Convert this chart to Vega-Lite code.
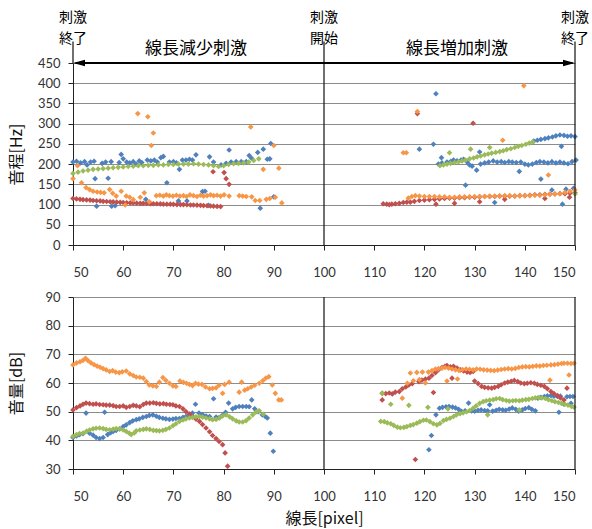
{
"$schema": "https://vega.github.io/schema/vega-lite/v6.json",
"padding": {"left": 8, "top": 11, "right": 0, "bottom": 4},
"spacing": 12,
"config": {
  "view": {"stroke": null},
  "font": "Noto Sans CJK JP",
  "axis": {"labelFont": "Lato", "labelFontSize": 13, "labelColor": "#333", "domainColor": "#222", "tickColor": "#222", "tickSize": 5, "titleFont": "Noto Sans CJK JP", "titleFontSize": 16, "titleFontWeight": "normal", "titleColor": "#111"},
  "axisX": {"labelPadding": 16, "grid": false},
  "axisY": {"labelPadding": 8, "grid": true, "gridColor": "#8c8c8c", "gridOpacity": 1, "titleX": -57, "titleBaseline": "middle"}
},
"datasets": {
  "pitch": [
{"s":"b","x":50,"y":205},{"s":"b","x":50.7,"y":207},{"s":"b","x":51.5,"y":203},{"s":"b","x":52.3,"y":206},{"s":"b","x":52.8,"y":198},{"s":"b","x":53.5,"y":205},{"s":"b","x":54.2,"y":207},{"s":"b","x":54.4,"y":164},{"s":"b","x":54.7,"y":96},{"s":"b","x":55.8,"y":202},{"s":"b","x":56.5,"y":205},{"s":"b","x":57,"y":165},{"s":"b","x":57.6,"y":206},{"s":"b","x":57.7,"y":96},{"s":"b","x":58.4,"y":97},{"s":"b","x":59.2,"y":204},{"s":"b","x":59.6,"y":224},{"s":"b","x":60,"y":213},{"s":"b","x":60.7,"y":205},{"s":"b","x":61.3,"y":203},{"s":"b","x":62,"y":206},{"s":"b","x":62.6,"y":200},{"s":"b","x":63.2,"y":208},{"s":"b","x":63.7,"y":204},{"s":"b","x":64.5,"y":113},{"s":"b","x":64.8,"y":210},{"s":"b","x":65.5,"y":208},{"s":"b","x":66.2,"y":210},{"s":"b","x":66.8,"y":205},{"s":"b","x":67.5,"y":216},{"s":"b","x":68,"y":219},{"s":"b","x":68.7,"y":154},{"s":"b","x":69.2,"y":205},{"s":"b","x":70,"y":206},{"s":"b","x":70.6,"y":203},{"s":"b","x":71,"y":109},{"s":"b","x":71.2,"y":187},{"s":"b","x":71.8,"y":210},{"s":"b","x":72.5,"y":210},{"s":"b","x":72.7,"y":109},{"s":"b","x":73.2,"y":212},{"s":"b","x":73.8,"y":210},{"s":"b","x":74.5,"y":223},{"s":"b","x":75.8,"y":132},{"s":"b","x":76.3,"y":133},{"s":"b","x":77,"y":98},{"s":"b","x":77.2,"y":218},{"s":"b","x":78,"y":205},{"s":"b","x":79.5,"y":198},{"s":"b","x":80.5,"y":202},{"s":"b","x":81.1,"y":235},{"s":"b","x":81.5,"y":205},{"s":"b","x":82.5,"y":206},{"s":"b","x":83.5,"y":206},{"s":"b","x":84.5,"y":206},{"s":"b","x":85.1,"y":221},{"s":"b","x":85.6,"y":214},{"s":"b","x":86.8,"y":229},{"s":"b","x":87.3,"y":91},{"s":"b","x":87.9,"y":237},{"s":"b","x":88.7,"y":212},{"s":"b","x":89.2,"y":213},{"s":"b","x":89.4,"y":251},{"s":"b","x":90,"y":119},
{"s":"b","x":119,"y":237},{"s":"b","x":121.8,"y":249},{"s":"b","x":122.3,"y":374},{"s":"b","x":123.4,"y":216},{"s":"b","x":128.2,"y":148},{"s":"b","x":131,"y":230},{"s":"b","x":134,"y":105},{"s":"b","x":138.9,"y":182},{"s":"b","x":143.2,"y":163},{"s":"b","x":145.4,"y":136},{"s":"b","x":147.3,"y":244},{"s":"b","x":147.5,"y":101},{"s":"b","x":148.2,"y":138},{"s":"b","x":149.7,"y":140},
{"s":"b","x":122.8,"y":200},{"s":"b","x":123.5,"y":203},{"s":"b","x":124.5,"y":205},{"s":"b","x":125.3,"y":207},{"s":"b","x":125.8,"y":210},{"s":"b","x":126.5,"y":208},{"s":"b","x":127.3,"y":210},{"s":"b","x":127.8,"y":212},{"s":"b","x":128.5,"y":205},{"s":"b","x":129,"y":198},{"s":"b","x":129.5,"y":195},{"s":"b","x":130.4,"y":185},{"s":"b","x":131.2,"y":200},{"s":"b","x":132,"y":203},{"s":"b","x":132.8,"y":205},{"s":"b","x":133.7,"y":208},{"s":"b","x":134.5,"y":205},{"s":"b","x":135.3,"y":206},{"s":"b","x":136,"y":204},{"s":"b","x":136.8,"y":206},{"s":"b","x":137.5,"y":205},{"s":"b","x":138.3,"y":204},{"s":"b","x":139.2,"y":205},{"s":"b","x":140,"y":200},{"s":"b","x":140.7,"y":198},{"s":"b","x":141.5,"y":200},{"s":"b","x":142.3,"y":204},{"s":"b","x":143,"y":206},{"s":"b","x":143.8,"y":205},{"s":"b","x":144.6,"y":203},{"s":"b","x":145.4,"y":206},{"s":"b","x":146.2,"y":203},{"s":"b","x":147,"y":205},{"s":"b","x":147.8,"y":203},{"s":"b","x":148.6,"y":201},{"s":"b","x":149.4,"y":206},{"s":"b","x":150.2,"y":210},
{"s":"b","x":141.8,"y":257},{"s":"b","x":142.5,"y":259},{"s":"b","x":143.2,"y":261},{"s":"b","x":144,"y":263},{"s":"b","x":144.7,"y":265},{"s":"b","x":145.5,"y":267},{"s":"b","x":146.2,"y":270},{"s":"b","x":147,"y":272},{"s":"b","x":147.8,"y":271},{"s":"b","x":148.5,"y":269},{"s":"b","x":149.2,"y":270},{"s":"b","x":150,"y":268},
{"s":"r","x":50,"y":115},{"s":"r","x":50.7,"y":114},{"s":"r","x":51.4,"y":113},{"s":"r","x":52,"y":112},{"s":"r","x":52.7,"y":111.5},{"s":"r","x":53.4,"y":111},{"s":"r","x":54,"y":110},{"s":"r","x":54.7,"y":109.5},{"s":"r","x":55.4,"y":109},{"s":"r","x":56,"y":108},{"s":"r","x":56.7,"y":107.5},{"s":"r","x":57.4,"y":107},{"s":"r","x":58,"y":106.5},{"s":"r","x":58.7,"y":106},{"s":"r","x":59.4,"y":105.5},{"s":"r","x":60,"y":105},{"s":"r","x":60.7,"y":104.5},{"s":"r","x":61.4,"y":104},{"s":"r","x":62,"y":104},{"s":"r","x":62.7,"y":103.5},{"s":"r","x":63.4,"y":103},{"s":"r","x":64,"y":103},{"s":"r","x":64.7,"y":102.5},{"s":"r","x":65.4,"y":102},{"s":"r","x":66,"y":102},{"s":"r","x":66.7,"y":102},{"s":"r","x":67.4,"y":101.5},{"s":"r","x":68,"y":101},{"s":"r","x":68.7,"y":101},{"s":"r","x":69.4,"y":101},{"s":"r","x":70,"y":100.5},{"s":"r","x":70.7,"y":100},{"s":"r","x":71.4,"y":100},{"s":"r","x":72,"y":100},{"s":"r","x":72.7,"y":99.5},{"s":"r","x":73.4,"y":99},{"s":"r","x":74,"y":99},{"s":"r","x":74.7,"y":98.5},{"s":"r","x":75.4,"y":98},{"s":"r","x":76,"y":97.5},{"s":"r","x":76.7,"y":97},{"s":"r","x":77.4,"y":96.5},{"s":"r","x":78,"y":96},{"s":"r","x":78.7,"y":95.5},{"s":"r","x":79.4,"y":95},{"s":"r","x":77.9,"y":181},{"s":"r","x":80.1,"y":179},{"s":"r","x":80.5,"y":164},{"s":"r","x":81.1,"y":150},
{"s":"r","x":111.8,"y":102},{"s":"r","x":112.5,"y":101},{"s":"r","x":113,"y":100},{"s":"r","x":113.5,"y":101},{"s":"r","x":114.2,"y":102},{"s":"r","x":115,"y":103},{"s":"r","x":115.8,"y":105},{"s":"r","x":116.5,"y":106},{"s":"r","x":117.2,"y":106},{"s":"r","x":118,"y":108},{"s":"r","x":119,"y":110},{"s":"r","x":120,"y":111},{"s":"r","x":121,"y":112},{"s":"r","x":122,"y":113},{"s":"r","x":123,"y":114},{"s":"r","x":124,"y":115},{"s":"r","x":125,"y":116},{"s":"r","x":126,"y":116},{"s":"r","x":127,"y":117},{"s":"r","x":128,"y":117},{"s":"r","x":129,"y":118},{"s":"r","x":130,"y":118},{"s":"r","x":131,"y":119},{"s":"r","x":132,"y":120},{"s":"r","x":133,"y":120},{"s":"r","x":134,"y":120},{"s":"r","x":135,"y":121},{"s":"r","x":136,"y":121},{"s":"r","x":137,"y":121},{"s":"r","x":138,"y":121},{"s":"r","x":139,"y":122},{"s":"r","x":140,"y":122},{"s":"r","x":141,"y":123},{"s":"r","x":142,"y":124},{"s":"r","x":143,"y":124},{"s":"r","x":144,"y":125},{"s":"r","x":145,"y":126},{"s":"r","x":146,"y":126},{"s":"r","x":147,"y":127},{"s":"r","x":148,"y":127},{"s":"r","x":149,"y":128},{"s":"r","x":150,"y":129},{"s":"r","x":118.6,"y":325},{"s":"r","x":129.7,"y":301},{"s":"r","x":122.3,"y":101},{"s":"r","x":126,"y":103},{"s":"r","x":131,"y":107},{"s":"r","x":136,"y":113},{"s":"r","x":144,"y":115},{"s":"r","x":148.9,"y":118},
{"s":"g","x":50,"y":177},{"s":"g","x":51,"y":180},{"s":"g","x":52,"y":183},{"s":"g","x":53,"y":185},{"s":"g","x":54,"y":187},{"s":"g","x":55,"y":188},{"s":"g","x":56,"y":189},{"s":"g","x":57,"y":190},{"s":"g","x":58,"y":191},{"s":"g","x":59,"y":192},{"s":"g","x":60,"y":193},{"s":"g","x":61,"y":194},{"s":"g","x":62,"y":195},{"s":"g","x":63,"y":196},{"s":"g","x":64,"y":196},{"s":"g","x":65,"y":197},{"s":"g","x":66,"y":197},{"s":"g","x":67,"y":198},{"s":"g","x":68,"y":198},{"s":"g","x":69,"y":199},{"s":"g","x":70,"y":199},{"s":"g","x":71,"y":200},{"s":"g","x":72,"y":200},{"s":"g","x":73,"y":200},{"s":"g","x":74,"y":201},{"s":"g","x":75,"y":200},{"s":"g","x":76,"y":199},{"s":"g","x":77,"y":198},{"s":"g","x":78,"y":196},{"s":"g","x":79,"y":194},{"s":"g","x":80,"y":196},{"s":"g","x":81,"y":199},{"s":"g","x":82,"y":201},{"s":"g","x":83,"y":202},{"s":"g","x":84,"y":203},{"s":"g","x":85,"y":205},{"s":"g","x":86,"y":209},{"s":"g","x":87,"y":213},
{"s":"g","x":123.1,"y":196},{"s":"g","x":123.8,"y":198},{"s":"g","x":124.5,"y":200},{"s":"g","x":125.2,"y":202},{"s":"g","x":126,"y":204},{"s":"g","x":126.8,"y":206},{"s":"g","x":127.5,"y":208},{"s":"g","x":128.2,"y":210},{"s":"g","x":129,"y":213},{"s":"g","x":129.8,"y":215},{"s":"g","x":130.5,"y":218},{"s":"g","x":131.2,"y":220},{"s":"g","x":132,"y":223},{"s":"g","x":132.7,"y":225},{"s":"g","x":133.4,"y":227},{"s":"g","x":134.2,"y":229},{"s":"g","x":135,"y":231},{"s":"g","x":135.7,"y":233},{"s":"g","x":136.4,"y":236},{"s":"g","x":137.2,"y":238},{"s":"g","x":138,"y":241},{"s":"g","x":138.7,"y":244},{"s":"g","x":139.4,"y":246},{"s":"g","x":140.2,"y":249},{"s":"g","x":140.9,"y":252},{"s":"g","x":141.6,"y":255},{"s":"g","x":125,"y":228},{"s":"g","x":129.2,"y":237},{"s":"g","x":133,"y":241},{"s":"g","x":150,"y":126},
{"s":"o","x":50,"y":164},{"s":"o","x":50.9,"y":196},{"s":"o","x":51.7,"y":154},{"s":"o","x":52.6,"y":142},{"s":"o","x":53.3,"y":137},{"s":"o","x":54,"y":133},{"s":"o","x":54.8,"y":131},{"s":"o","x":55.5,"y":130},{"s":"o","x":56.2,"y":129},{"s":"o","x":57.3,"y":137},{"s":"o","x":57.9,"y":128},{"s":"o","x":58.6,"y":121},{"s":"o","x":59.6,"y":133},{"s":"o","x":60.4,"y":99},{"s":"o","x":60.6,"y":121},{"s":"o","x":61.3,"y":118},{"s":"o","x":62,"y":112},{"s":"o","x":62.9,"y":325},{"s":"o","x":63.4,"y":118},{"s":"o","x":64.2,"y":129},{"s":"o","x":64.9,"y":317},{"s":"o","x":65.6,"y":246},{"s":"o","x":66,"y":277},{"s":"o","x":65.2,"y":107},{"s":"o","x":66.6,"y":122},{"s":"o","x":67.3,"y":123},{"s":"o","x":68,"y":121},{"s":"o","x":68.6,"y":124},{"s":"o","x":69.2,"y":122},{"s":"o","x":69.9,"y":121},{"s":"o","x":70.6,"y":123},{"s":"o","x":71.3,"y":121},{"s":"o","x":72,"y":122},{"s":"o","x":72.6,"y":120},{"s":"o","x":73.3,"y":124},{"s":"o","x":74,"y":122},{"s":"o","x":74.7,"y":120},{"s":"o","x":75.4,"y":123},{"s":"o","x":76,"y":121},{"s":"o","x":76.7,"y":122},{"s":"o","x":77.4,"y":124},{"s":"o","x":78,"y":122},{"s":"o","x":78.7,"y":123},{"s":"o","x":79.4,"y":121},{"s":"o","x":80.1,"y":124},{"s":"o","x":81.1,"y":121},{"s":"o","x":83.1,"y":122},{"s":"o","x":83.8,"y":121},{"s":"o","x":84.5,"y":120},{"s":"o","x":85.4,"y":292},{"s":"o","x":85.6,"y":119},{"s":"o","x":86.3,"y":110},{"s":"o","x":87.2,"y":110},{"s":"o","x":87.9,"y":187},{"s":"o","x":88.5,"y":113},{"s":"o","x":89.2,"y":115},{"s":"o","x":90,"y":246},{"s":"o","x":90.3,"y":118},{"s":"o","x":91,"y":190},{"s":"o","x":91.6,"y":104},
{"s":"o","x":115.8,"y":228},{"s":"o","x":116.4,"y":228},{"s":"o","x":118.6,"y":330},{"s":"o","x":135.6,"y":259},{"s":"o","x":139.8,"y":394},{"s":"o","x":144.7,"y":173},
{"s":"o","x":116.8,"y":116},{"s":"o","x":117.5,"y":120},{"s":"o","x":118.2,"y":122},{"s":"o","x":119,"y":121},{"s":"o","x":120,"y":120},{"s":"o","x":121,"y":120},{"s":"o","x":122,"y":120},{"s":"o","x":123,"y":119},{"s":"o","x":124,"y":119},{"s":"o","x":125,"y":118},{"s":"o","x":126,"y":118},{"s":"o","x":127,"y":119},{"s":"o","x":128,"y":119},{"s":"o","x":129,"y":119},{"s":"o","x":130,"y":120},{"s":"o","x":131,"y":120},{"s":"o","x":132,"y":120},{"s":"o","x":133,"y":121},{"s":"o","x":134,"y":121},{"s":"o","x":135,"y":121},{"s":"o","x":136,"y":122},{"s":"o","x":137,"y":122},{"s":"o","x":138,"y":121},{"s":"o","x":139,"y":122},{"s":"o","x":140,"y":122},{"s":"o","x":141,"y":122},{"s":"o","x":142,"y":123},{"s":"o","x":143,"y":123},{"s":"o","x":144,"y":124},{"s":"o","x":145,"y":125},{"s":"o","x":146,"y":126},{"s":"o","x":147,"y":127},{"s":"o","x":148,"y":130},{"s":"o","x":149,"y":133},{"s":"o","x":150,"y":136}
  ],
  "vol": [
{"s":"b","x":50,"y":41},{"s":"b","x":50.7,"y":41.5},{"s":"b","x":51.3,"y":42},{"s":"b","x":52,"y":42.3},{"s":"b","x":52.6,"y":49.5},{"s":"b","x":53.3,"y":42.5},{"s":"b","x":54,"y":41.8},{"s":"b","x":54.6,"y":41},{"s":"b","x":55.3,"y":40.6},{"s":"b","x":56,"y":41},{"s":"b","x":56.3,"y":49.8},{"s":"b","x":56.9,"y":42},{"s":"b","x":57.5,"y":42.7},{"s":"b","x":58,"y":43.1},{"s":"b","x":58.6,"y":43.5},{"s":"b","x":59.3,"y":44},{"s":"b","x":60,"y":44.8},{"s":"b","x":60.6,"y":45.4},{"s":"b","x":61.3,"y":46.2},{"s":"b","x":61.9,"y":46.8},{"s":"b","x":62.6,"y":47.2},{"s":"b","x":63.2,"y":47.5},{"s":"b","x":63.9,"y":48},{"s":"b","x":64.6,"y":48.3},{"s":"b","x":65.2,"y":48.7},{"s":"b","x":65.9,"y":48.9},{"s":"b","x":66.6,"y":48.4},{"s":"b","x":67.2,"y":48},{"s":"b","x":67.9,"y":47.7},{"s":"b","x":68.5,"y":47.5},{"s":"b","x":69.2,"y":47.3},{"s":"b","x":69.9,"y":47.4},{"s":"b","x":70.5,"y":47.6},{"s":"b","x":71.2,"y":47.6},{"s":"b","x":71.9,"y":48},{"s":"b","x":72.5,"y":48.3},{"s":"b","x":73.2,"y":48.9},{"s":"b","x":73.8,"y":49.5},{"s":"b","x":74.4,"y":52.6},{"s":"b","x":75.1,"y":49.5},{"s":"b","x":75.8,"y":49},{"s":"b","x":76.5,"y":48.5},{"s":"b","x":77.2,"y":48.3},{"s":"b","x":78,"y":54.5},{"s":"b","x":78.5,"y":48.1},{"s":"b","x":79.1,"y":47.9},{"s":"b","x":79.8,"y":48.8},{"s":"b","x":80.4,"y":49.8},{"s":"b","x":81,"y":53},{"s":"b","x":81.8,"y":51},{"s":"b","x":82.4,"y":51.5},{"s":"b","x":83.1,"y":51.8},{"s":"b","x":83.8,"y":51.8},{"s":"b","x":84.5,"y":51.8},{"s":"b","x":85.1,"y":51.7},{"s":"b","x":85.6,"y":54.1},{"s":"b","x":86.2,"y":51},{"s":"b","x":86.9,"y":50},{"s":"b","x":87.7,"y":48.9},{"s":"b","x":88.3,"y":48.3},{"s":"b","x":88.7,"y":47.8},{"s":"b","x":89.3,"y":42.5},{"s":"b","x":89.9,"y":36.2},
{"s":"b","x":120.9,"y":36.7},{"s":"b","x":121.4,"y":41.7},{"s":"b","x":122.3,"y":48.9},{"s":"b","x":123,"y":51.2},{"s":"b","x":123.6,"y":51.5},{"s":"b","x":124.3,"y":51.7},{"s":"b","x":124.9,"y":51.8},{"s":"b","x":125.6,"y":51.6},{"s":"b","x":126.2,"y":51.3},{"s":"b","x":126.8,"y":50.8},{"s":"b","x":127.4,"y":50.1},{"s":"b","x":128.1,"y":50.3},{"s":"b","x":128.8,"y":53},{"s":"b","x":129.4,"y":50.3},{"s":"b","x":130,"y":50.2},{"s":"b","x":130.7,"y":50.5},{"s":"b","x":131.3,"y":50.6},{"s":"b","x":132,"y":50.4},{"s":"b","x":132.6,"y":50.3},{"s":"b","x":133,"y":52.4},{"s":"b","x":133.6,"y":50.2},{"s":"b","x":134.3,"y":50.5},{"s":"b","x":134.9,"y":50.8},{"s":"b","x":135.6,"y":50.6},{"s":"b","x":136.2,"y":50.5},{"s":"b","x":136.9,"y":50.9},{"s":"b","x":137.5,"y":51.3},{"s":"b","x":138.2,"y":50.8},{"s":"b","x":138.8,"y":50.2},{"s":"b","x":139.5,"y":50.6},{"s":"b","x":140.1,"y":51.1},{"s":"b","x":140.8,"y":51.4},{"s":"b","x":141.4,"y":50.8},{"s":"b","x":142.1,"y":50.3},{"s":"b","x":142.6,"y":54.7},{"s":"b","x":143.2,"y":55},{"s":"b","x":143.9,"y":55.3},{"s":"b","x":144.5,"y":55.5},{"s":"b","x":145.2,"y":55.6},{"s":"b","x":145.8,"y":55.4},{"s":"b","x":146.5,"y":55.3},{"s":"b","x":146.8,"y":49.8},{"s":"b","x":147.1,"y":55.4},{"s":"b","x":147.8,"y":52.6},{"s":"b","x":148.4,"y":55.2},{"s":"b","x":149,"y":55.3},{"s":"b","x":149.6,"y":55.3},{"s":"b","x":149.2,"y":52.9},
{"s":"r","x":50,"y":50.6},{"s":"r","x":50.7,"y":51.4},{"s":"r","x":51.4,"y":52},{"s":"r","x":52,"y":52.6},{"s":"r","x":52.6,"y":53},{"s":"r","x":53.3,"y":52.8},{"s":"r","x":54,"y":52.6},{"s":"r","x":54.6,"y":52.7},{"s":"r","x":55.3,"y":52.5},{"s":"r","x":56,"y":52.4},{"s":"r","x":56.6,"y":52.3},{"s":"r","x":57.3,"y":52.3},{"s":"r","x":58,"y":52.1},{"s":"r","x":58.6,"y":51.8},{"s":"r","x":59.3,"y":51.8},{"s":"r","x":60,"y":52},{"s":"r","x":60.6,"y":51.5},{"s":"r","x":61.3,"y":51.8},{"s":"r","x":62,"y":52.2},{"s":"r","x":62.6,"y":52},{"s":"r","x":63.3,"y":51.7},{"s":"r","x":64,"y":52.5},{"s":"r","x":64.6,"y":53},{"s":"r","x":65.3,"y":53},{"s":"r","x":66,"y":53.1},{"s":"r","x":66.6,"y":52.9},{"s":"r","x":67.3,"y":52.7},{"s":"r","x":68,"y":52.8},{"s":"r","x":68.6,"y":52.6},{"s":"r","x":69.3,"y":52.5},{"s":"r","x":69.9,"y":52.4},{"s":"r","x":70.5,"y":52},{"s":"r","x":71.2,"y":51.8},{"s":"r","x":71.9,"y":51},{"s":"r","x":72.5,"y":50},{"s":"r","x":73.2,"y":49.2},{"s":"r","x":73.8,"y":48.3},{"s":"r","x":74.5,"y":47.4},{"s":"r","x":75.2,"y":46.6},{"s":"r","x":75.8,"y":45.5},{"s":"r","x":76.5,"y":44.3},{"s":"r","x":77.2,"y":43},{"s":"r","x":77.8,"y":41.7},{"s":"r","x":78.5,"y":40.6},{"s":"r","x":79.1,"y":39.6},{"s":"r","x":79.8,"y":38.5},{"s":"r","x":80.3,"y":35.6},{"s":"r","x":80.8,"y":31},
{"s":"r","x":111.6,"y":56.4},{"s":"r","x":111.6,"y":54.1},{"s":"r","x":112.3,"y":56.3},{"s":"r","x":113,"y":56.5},{"s":"r","x":113.6,"y":56.2},{"s":"r","x":114.2,"y":56.8},{"s":"r","x":115,"y":57},{"s":"r","x":115.6,"y":58},{"s":"r","x":116.3,"y":58.6},{"s":"r","x":116.9,"y":59.3},{"s":"r","x":117.6,"y":59.8},{"s":"r","x":118.2,"y":33.3},{"s":"r","x":118.9,"y":60.5},{"s":"r","x":119.5,"y":61},{"s":"r","x":120.2,"y":61.4},{"s":"r","x":120.9,"y":61.7},{"s":"r","x":121.5,"y":62.6},{"s":"r","x":121.8,"y":56.7},{"s":"r","x":122.2,"y":63.6},{"s":"r","x":122.8,"y":64.6},{"s":"r","x":123.5,"y":65.4},{"s":"r","x":124.1,"y":65.8},{"s":"r","x":124.5,"y":66.1},{"s":"r","x":125.2,"y":65.6},{"s":"r","x":125.5,"y":61.7},{"s":"r","x":125.8,"y":65.8},{"s":"r","x":126.5,"y":65.2},{"s":"r","x":127.2,"y":64.6},{"s":"r","x":127.8,"y":64.2},{"s":"r","x":128.5,"y":63.8},{"s":"r","x":129.1,"y":63.7},{"s":"r","x":129.7,"y":64},{"s":"r","x":130,"y":60.7},{"s":"r","x":130.7,"y":59.8},{"s":"r","x":131.4,"y":58.8},{"s":"r","x":132,"y":58.5},{"s":"r","x":132.7,"y":58.3},{"s":"r","x":133.4,"y":58.2},{"s":"r","x":134,"y":58.5},{"s":"r","x":134.7,"y":58.8},{"s":"r","x":135.3,"y":59.4},{"s":"r","x":136,"y":60},{"s":"r","x":136.6,"y":60.3},{"s":"r","x":137.3,"y":60.6},{"s":"r","x":137.9,"y":60.9},{"s":"r","x":138.6,"y":60.5},{"s":"r","x":139.2,"y":60},{"s":"r","x":139.9,"y":59.8},{"s":"r","x":140.5,"y":59.9},{"s":"r","x":141.2,"y":60.1},{"s":"r","x":141.9,"y":59.9},{"s":"r","x":142.5,"y":59.5},{"s":"r","x":143.2,"y":59.2},{"s":"r","x":143.9,"y":58.8},{"s":"r","x":144.5,"y":58},{"s":"r","x":145.2,"y":57},{"s":"r","x":145.8,"y":56.3},{"s":"r","x":146.5,"y":55.6},{"s":"r","x":147.1,"y":54.8},{"s":"r","x":147.8,"y":54.1},{"s":"r","x":148.4,"y":58.2},
{"s":"g","x":50,"y":41.4},{"s":"g","x":50.7,"y":42},{"s":"g","x":51.3,"y":42.4},{"s":"g","x":52,"y":42.5},{"s":"g","x":52.7,"y":43.2},{"s":"g","x":53.3,"y":43.6},{"s":"g","x":54,"y":44},{"s":"g","x":54.6,"y":44.2},{"s":"g","x":55.3,"y":44.3},{"s":"g","x":56,"y":44.1},{"s":"g","x":56.6,"y":43.8},{"s":"g","x":57.3,"y":43.7},{"s":"g","x":58,"y":43.9},{"s":"g","x":58.6,"y":44.1},{"s":"g","x":59.3,"y":44},{"s":"g","x":60,"y":43.6},{"s":"g","x":60.6,"y":43.1},{"s":"g","x":61.2,"y":42.5},{"s":"g","x":61.6,"y":42},{"s":"g","x":62.2,"y":42.6},{"s":"g","x":62.6,"y":43.3},{"s":"g","x":63.3,"y":43.6},{"s":"g","x":64,"y":43.8},{"s":"g","x":64.6,"y":44},{"s":"g","x":65.3,"y":43.8},{"s":"g","x":66,"y":43.5},{"s":"g","x":66.6,"y":43.4},{"s":"g","x":67.2,"y":43.3},{"s":"g","x":67.9,"y":43.5},{"s":"g","x":68.5,"y":43.8},{"s":"g","x":69.2,"y":44.3},{"s":"g","x":69.9,"y":45.1},{"s":"g","x":70.5,"y":45.8},{"s":"g","x":71.2,"y":46.6},{"s":"g","x":71.9,"y":47.1},{"s":"g","x":72.5,"y":47.5},{"s":"g","x":73.2,"y":47.8},{"s":"g","x":73.8,"y":48},{"s":"g","x":74.5,"y":48.2},{"s":"g","x":75.2,"y":48.3},{"s":"g","x":75.8,"y":48.1},{"s":"g","x":76.5,"y":47.8},{"s":"g","x":77.2,"y":47.5},{"s":"g","x":77.8,"y":47.2},{"s":"g","x":78.5,"y":47.3},{"s":"g","x":79.2,"y":47.8},{"s":"g","x":79.8,"y":48.5},{"s":"g","x":80.5,"y":48.9},{"s":"g","x":81.2,"y":48.2},{"s":"g","x":81.8,"y":47.5},{"s":"g","x":82.5,"y":46.8},{"s":"g","x":83.1,"y":46.4},{"s":"g","x":83.8,"y":46.4},{"s":"g","x":84.5,"y":46.9},{"s":"g","x":85.1,"y":47.8},{"s":"g","x":85.8,"y":48.9},{"s":"g","x":86.4,"y":49.8},{"s":"g","x":87.1,"y":50.3},{"s":"g","x":87.9,"y":49.1},
{"s":"g","x":111.6,"y":56.4},{"s":"g","x":113.3,"y":52.6},{"s":"g","x":116.9,"y":52.2},{"s":"g","x":120.7,"y":51.5},{"s":"g","x":124.7,"y":51},{"s":"g","x":132.6,"y":48.9},{"s":"g","x":138.9,"y":50.6},
{"s":"g","x":111.3,"y":46.6},{"s":"g","x":112,"y":46.5},{"s":"g","x":112.6,"y":46.1},{"s":"g","x":113.3,"y":45.8},{"s":"g","x":113.9,"y":45.2},{"s":"g","x":114.6,"y":44.6},{"s":"g","x":115.2,"y":44.4},{"s":"g","x":115.9,"y":44.5},{"s":"g","x":116.5,"y":44.8},{"s":"g","x":117.2,"y":45.2},{"s":"g","x":117.8,"y":45.5},{"s":"g","x":118.5,"y":46},{"s":"g","x":119.1,"y":46.5},{"s":"g","x":119.8,"y":47},{"s":"g","x":120.4,"y":47.1},{"s":"g","x":121.1,"y":46.5},{"s":"g","x":121.8,"y":45.8},{"s":"g","x":122.5,"y":45.4},{"s":"g","x":123.1,"y":45.9},{"s":"g","x":123.8,"y":46.9},{"s":"g","x":124.4,"y":47.3},{"s":"g","x":125.1,"y":47.7},{"s":"g","x":125.8,"y":48.3},{"s":"g","x":126.4,"y":48.9},{"s":"g","x":127.1,"y":49.3},{"s":"g","x":127.7,"y":49.6},{"s":"g","x":128.4,"y":50},{"s":"g","x":129,"y":50.4},{"s":"g","x":129.7,"y":51.2},{"s":"g","x":130.3,"y":52},{"s":"g","x":131,"y":52.9},{"s":"g","x":131.7,"y":53.5},{"s":"g","x":132.3,"y":53.8},{"s":"g","x":133,"y":54},{"s":"g","x":133.7,"y":54.2},{"s":"g","x":134.3,"y":54.5},{"s":"g","x":135,"y":54.6},{"s":"g","x":135.6,"y":54.2},{"s":"g","x":136.3,"y":53.9},{"s":"g","x":136.9,"y":53.7},{"s":"g","x":137.6,"y":53.8},{"s":"g","x":138.2,"y":53.9},{"s":"g","x":138.9,"y":53.8},{"s":"g","x":139.5,"y":54},{"s":"g","x":140.2,"y":54.2},{"s":"g","x":140.8,"y":54.3},{"s":"g","x":141.5,"y":54.6},{"s":"g","x":142.1,"y":54.8},{"s":"g","x":142.8,"y":54.9},{"s":"g","x":143.4,"y":54.8},{"s":"g","x":144.1,"y":54.6},{"s":"g","x":144.7,"y":54.2},{"s":"g","x":145.4,"y":53.8},{"s":"g","x":146,"y":53.5},{"s":"g","x":146.7,"y":53.2},{"s":"g","x":147.3,"y":52.9},{"s":"g","x":148,"y":52.6},{"s":"g","x":148.6,"y":52.3},{"s":"g","x":149.3,"y":51.8},{"s":"g","x":149.8,"y":51.6},
{"s":"o","x":50,"y":66.3},{"s":"o","x":50.7,"y":67},{"s":"o","x":51.4,"y":67.4},{"s":"o","x":52,"y":67.9},{"s":"o","x":52.5,"y":68.6},{"s":"o","x":53,"y":67.8},{"s":"o","x":53.6,"y":67},{"s":"o","x":54.2,"y":66.4},{"s":"o","x":54.8,"y":65.9},{"s":"o","x":55.4,"y":65.5},{"s":"o","x":56,"y":65},{"s":"o","x":56.6,"y":64.6},{"s":"o","x":57.3,"y":64},{"s":"o","x":57.9,"y":64.3},{"s":"o","x":58.5,"y":63.8},{"s":"o","x":59.2,"y":63.6},{"s":"o","x":59.8,"y":63.9},{"s":"o","x":60.6,"y":64.2},{"s":"o","x":61.3,"y":63.2},{"s":"o","x":62,"y":62.6},{"s":"o","x":62.6,"y":62.1},{"s":"o","x":63.3,"y":62},{"s":"o","x":64,"y":61.7},{"s":"o","x":64.6,"y":60.5},{"s":"o","x":65.2,"y":59.3},{"s":"o","x":65.9,"y":59},{"s":"o","x":66.6,"y":58.8},{"s":"o","x":67.2,"y":60.3},{"s":"o","x":67.9,"y":61.9},{"s":"o","x":68.5,"y":60.9},{"s":"o","x":69.2,"y":59.9},{"s":"o","x":69.9,"y":59},{"s":"o","x":70.5,"y":58.8},{"s":"o","x":71.3,"y":60.7},{"s":"o","x":72,"y":60.2},{"s":"o","x":72.6,"y":59.9},{"s":"o","x":73.2,"y":59.5},{"s":"o","x":73.8,"y":59.1},{"s":"o","x":74.4,"y":59.9},{"s":"o","x":75,"y":59.6},{"s":"o","x":75.7,"y":59.5},{"s":"o","x":76.4,"y":58.6},{"s":"o","x":77.2,"y":58},{"s":"o","x":77.8,"y":58.1},{"s":"o","x":78.5,"y":58.3},{"s":"o","x":79.1,"y":59.2},{"s":"o","x":79.8,"y":56.4},{"s":"o","x":80.2,"y":59.5},{"s":"o","x":81.1,"y":60.3},{"s":"o","x":83.1,"y":56.8},{"s":"o","x":83.6,"y":60.3},{"s":"o","x":84.2,"y":57.5},{"s":"o","x":84.8,"y":58},{"s":"o","x":85.5,"y":58.6},{"s":"o","x":86.2,"y":59.2},{"s":"o","x":87.1,"y":59.9},{"s":"o","x":87.8,"y":60.8},{"s":"o","x":88.4,"y":61.7},{"s":"o","x":89,"y":62.2},{"s":"o","x":89.7,"y":59.3},{"s":"o","x":90.3,"y":56.4},{"s":"o","x":91,"y":54.1},{"s":"o","x":91.5,"y":54.1},
{"s":"o","x":115.6,"y":54.7},{"s":"o","x":116.6,"y":59.9},{"s":"o","x":117.2,"y":63.5},{"s":"o","x":117.8,"y":60.8},{"s":"o","x":118.5,"y":63.7},{"s":"o","x":119,"y":61.2},{"s":"o","x":119.6,"y":63.8},{"s":"o","x":120.2,"y":60},{"s":"o","x":120.8,"y":63.8},{"s":"o","x":121.5,"y":64.3},{"s":"o","x":122.2,"y":64.9},{"s":"o","x":122.8,"y":65},{"s":"o","x":123.5,"y":65.2},{"s":"o","x":124.1,"y":65.4},{"s":"o","x":124.5,"y":60.7},{"s":"o","x":124.8,"y":65.2},{"s":"o","x":125.5,"y":64.9},{"s":"o","x":126.2,"y":64.6},{"s":"o","x":126.6,"y":61.4},{"s":"o","x":126.9,"y":64.4},{"s":"o","x":127.6,"y":64.7},{"s":"o","x":128.3,"y":64.9},{"s":"o","x":129,"y":64.8},{"s":"o","x":129.7,"y":64.6},{"s":"o","x":130.4,"y":64.9},{"s":"o","x":131.1,"y":64.8},{"s":"o","x":131.8,"y":64.6},{"s":"o","x":132.5,"y":64.5},{"s":"o","x":133.2,"y":64.4},{"s":"o","x":133.9,"y":64.3},{"s":"o","x":134.6,"y":64.5},{"s":"o","x":135.3,"y":64.7},{"s":"o","x":136,"y":64.9},{"s":"o","x":136.7,"y":65},{"s":"o","x":137.4,"y":64.9},{"s":"o","x":138.1,"y":65.1},{"s":"o","x":138.8,"y":65.4},{"s":"o","x":139.5,"y":65.6},{"s":"o","x":140.2,"y":65.7},{"s":"o","x":140.9,"y":65.6},{"s":"o","x":141.6,"y":65.8},{"s":"o","x":142.3,"y":66},{"s":"o","x":143,"y":65.9},{"s":"o","x":143.7,"y":66.1},{"s":"o","x":144.4,"y":66.2},{"s":"o","x":145,"y":61},{"s":"o","x":145.2,"y":66.3},{"s":"o","x":145.9,"y":66.4},{"s":"o","x":146.6,"y":66.6},{"s":"o","x":147.3,"y":66.8},{"s":"o","x":147.8,"y":66.9},{"s":"o","x":148.5,"y":66.9},{"s":"o","x":148.8,"y":62.8},{"s":"o","x":149.2,"y":66.8},{"s":"o","x":149.8,"y":66.9}
  ]
},
"vconcat": [
  {
    "width": 502, "height": 182,
    "encoding": {
      "x": {"field": "x", "type": "quantitative", "scale": {"domain": [50, 150], "nice": false}, "axis": {"values": [50,60,70,80,90,100,110,120,130,140,150], "title": null}},
      "y": {"field": "y", "type": "quantitative", "scale": {"domain": [0, 450], "nice": false}, "axis": {"values": [0,50,100,150,200,250,300,350,400,450], "title": "音程[Hz]"}}
    },
    "layer": [
      {
        "data": {"name": "pitch"},
        "mark": {"type": "point", "shape": "diamond", "filled": true, "size": 32, "opacity": 1},
        "encoding": {
          "color": {"field": "s", "type": "nominal", "scale": {"domain": ["b","r","g","o"], "range": ["#4F81BD","#C0504D","#9BBB59","#F79646"]}, "legend": null}
        }
      },
      {
        "data": {"values": [{"x": 50, "y": 450, "y2": 503}, {"x": 100, "y": 0, "y2": 503}, {"x": 150, "y": 0, "y2": 503}]},
        "mark": {"type": "rule", "color": "#111", "strokeWidth": 1.2},
        "encoding": {"y2": {"field": "y2"}}
      },
      {
        "data": {"values": [{"x": 50.5, "x2": 149.5, "y": 450}]},
        "mark": {"type": "rule", "color": "#000", "strokeWidth": 2},
        "encoding": {"x2": {"field": "x2"}}
      },
      {
        "data": {"values": [{"x": 51.2, "y": 450, "d": "l"}, {"x": 148.8, "y": 450, "d": "r"}]},
        "mark": {"type": "point", "filled": true, "opacity": 1, "color": "#000", "size": 144},
        "encoding": {
          "shape": {"field": "d", "type": "nominal", "scale": {"domain": ["l", "r"], "range": ["M-1,0L1,-0.55L1,0.55Z", "M1,0L-1,-0.55L-1,0.55Z"]}, "legend": null}
        }
      },
      {
        "data": {"values": [{"x": 50, "y": 561, "t": "刺激"}, {"x": 50, "y": 510, "t": "終了"}, {"x": 100, "y": 561, "t": "刺激"}, {"x": 100, "y": 510, "t": "開始"}, {"x": 150, "y": 561, "t": "刺激"}, {"x": 150, "y": 510, "t": "終了"}]},
        "mark": {"type": "text", "fontSize": 14, "align": "center", "baseline": "middle", "color": "#000", "font": "Noto Sans CJK JP"},
        "encoding": {"text": {"field": "t", "type": "nominal"}}
      },
      {
        "data": {"values": [{"x": 74.5, "y": 485, "t": "線長減少刺激"}, {"x": 126.5, "y": 485, "t": "線長増加刺激"}]},
        "mark": {"type": "text", "fontSize": 17, "align": "center", "baseline": "middle", "color": "#000", "font": "Noto Sans CJK JP"},
        "encoding": {"text": {"field": "t", "type": "nominal"}}
      }
    ]
  },
  {
    "width": 502, "height": 172,
    "encoding": {
      "x": {"field": "x", "type": "quantitative", "scale": {"domain": [50, 150], "nice": false}, "axis": {"values": [50,60,70,80,90,100,110,120,130,140,150], "title": "線長[pixel]", "titlePadding": 7}},
      "y": {"field": "y", "type": "quantitative", "scale": {"domain": [30, 90], "nice": false, "zero": false}, "axis": {"values": [30,40,50,60,70,80,90], "title": "音量[dB]"}}
    },
    "layer": [
      {
        "data": {"name": "vol"},
        "mark": {"type": "point", "shape": "diamond", "filled": true, "size": 32, "opacity": 1},
        "encoding": {
          "color": {"field": "s", "type": "nominal", "scale": {"domain": ["b","r","g","o"], "range": ["#4F81BD","#C0504D","#9BBB59","#F79646"]}, "legend": null}
        }
      },
      {
        "data": {"values": [{"x": 100, "y": 30, "y2": 90}, {"x": 150, "y": 30, "y2": 90}]},
        "mark": {"type": "rule", "color": "#111", "strokeWidth": 1.2},
        "encoding": {"y2": {"field": "y2"}}
      }
    ]
  }
]
}
